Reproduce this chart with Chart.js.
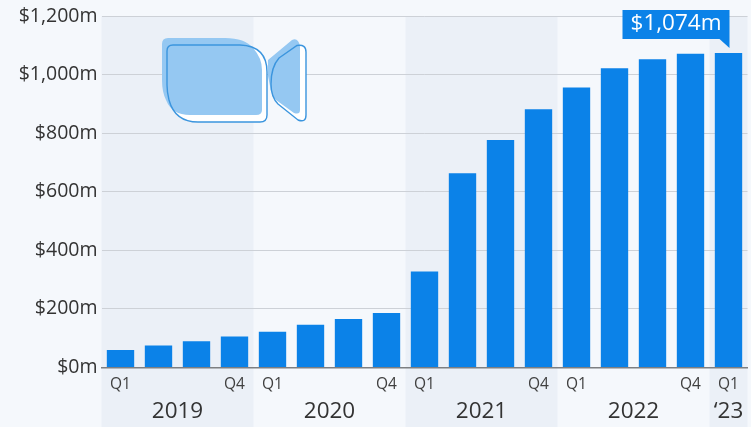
<!DOCTYPE html>
<html>
<head>
<meta charset="utf-8">
<style>
  html, body { margin: 0; padding: 0; background: #f5f8fc; }
  #chart { display: block; }
</style>
</head>
<body>
<canvas id="chart" width="751" height="427"></canvas>
<script src="https://cdn.jsdelivr.net/npm/chart.js@4"></script>
<script>
const quarterLabels = ["Q1", "", "", "Q4", "Q1", "", "", "Q4", "Q1", "", "", "Q4", "Q1", "", "", "Q4", "Q1"];
const revenue = [60, 75, 90, 106, 122, 146, 166, 186, 328, 663, 777, 882, 956, 1022, 1052, 1071, 1074];
const yearLabels = ["2019", "2020", "2021", "2022", "\u201823"];
const yearStarts = [0, 4, 8, 12, 16];
const yearEnds = [3, 7, 11, 15, 16];
const calloutText = "$1,074m";

const FONT = '"Open Sans", "Noto Sans", sans-serif';
const BLUE = "#0b82e8";

// shaded bands behind every other year
const yearBands = {
  id: "yearBands",
  beforeDraw(chart) {
    const { ctx, chartArea, scales } = chart;
    const step = scales.x.getPixelForValue(1) - scales.x.getPixelForValue(0);
    ctx.save();
    ctx.fillStyle = "#ebf0f7";
    yearStarts.forEach((start, i) => {
      if (i % 2) return;
      const x0 = scales.x.getPixelForValue(start) - step / 2;
      const x1 = Math.min(scales.x.getPixelForValue(yearEnds[i]) + step / 2, chart.width);
      ctx.fillRect(x0, chartArea.top, x1 - x0, chart.height - chartArea.top);
    });
    ctx.restore();
  },
};

// video camera icon in the upper left of the plot
function drawCamera(ctx) {
  const body = new Path2D("M173 45 L240 45 Q267 46 267 72 L267 115 Q267 122 260 122 L198 122 Q175 122 169 100 Q167 92 167 85 L167 51 Q167 45 173 45 Z");
  const bodyFill = new Path2D("M168 38 L225 38 Q245 38 253 48 Q262 58 262 70 L262 110 Q262 115 256 115 L190 115 Q172 115 166 100 Q162 92 162 80 L162 44 Q162 38 168 38 Z");
  const lens = new Path2D("M279 58 L297 45.5 Q306 44 306 52 L306 115 Q306 123 298 120 L278 104 Q271 97 271 84 Q271 67 279 58 Z");
  const lensFill = new Path2D("M268 60 L292 40 Q298 37 300 46 L300 110 Q300 115 294 113 L276 100 Q271 95 270 86 L268 76 Z");
  ctx.save();
  ctx.fillStyle = "#ffffff";
  ctx.fill(body);
  ctx.fill(lens);
  ctx.fillStyle = "#95c8f2";
  ctx.fill(bodyFill);
  ctx.fill(lensFill);
  ctx.strokeStyle = "#3b95de";
  ctx.lineWidth = 1.4;
  ctx.stroke(body);
  ctx.stroke(lens);
  ctx.restore();
}

const decorations = {
  id: "decorations",
  beforeDatasetsDraw(chart) {
    drawCamera(chart.ctx);
  },
  afterDraw(chart) {
    const { ctx, scales } = chart;
    const step = scales.x.getPixelForValue(1) - scales.x.getPixelForValue(0);
    ctx.save();

    // year captions under the quarter ticks
    ctx.fillStyle = "#333333";
    ctx.font = "22.5px " + FONT;
    ctx.textAlign = "center";
    ctx.textBaseline = "middle";
    yearLabels.forEach((label, i) => {
      const x0 = scales.x.getPixelForValue(yearStarts[i]) - step / 2;
      const x1 = scales.x.getPixelForValue(yearEnds[i]) + step / 2;
      ctx.fillText(label, (x0 + x1) / 2, 412);
    });

    // callout on the last bar
    const last = chart.getDatasetMeta(0).data[revenue.length - 1];
    const tipX = last.x + 1;
    const tipY = last.y - 5;
    ctx.fillStyle = BLUE;
    ctx.fillRect(tipX - 107, 10, 107, 29);
    ctx.beginPath();
    ctx.moveTo(tipX - 10, 39);
    ctx.lineTo(tipX, tipY);
    ctx.lineTo(tipX, 39);
    ctx.closePath();
    ctx.fill();
    ctx.fillStyle = "#ffffff";
    ctx.font = "500 22.5px " + FONT;
    ctx.fillText(calloutText, tipX - 53.5, 24);
    ctx.restore();
  },
};

new Chart(document.getElementById("chart"), {
  type: "bar",
  data: {
    labels: quarterLabels,
    datasets: [
      {
        data: revenue,
        backgroundColor: BLUE,
        borderWidth: 0,
        categoryPercentage: 1,
        barPercentage: 0.72,
      },
    ],
  },
  options: {
    responsive: false,
    animation: false,
    layout: { padding: { top: 16, right: 3.5, left: 0, bottom: 0 } },
    plugins: { legend: false, tooltip: { enabled: false } },
    scales: {
      x: {
        afterFit(scale) {
          scale.height = 59.5;
        },
        grid: { display: false },
        border: { color: "#7d7f82", width: 1.5 },
        ticks: {
          color: "#404040",
          font: { family: FONT, size: 15.5 },
          autoSkip: false,
          maxRotation: 0,
          padding: 0,
        },
      },
      y: {
        min: 0,
        max: 1200,
        afterFit(scale) {
          scale.width = 101.5;
        },
        grid: { color: "#cdd1d7", lineWidth: 1, drawTicks: false },
        border: { display: false },
        ticks: {
          stepSize: 200,
          padding: 4,
          color: "#333333",
          font: { family: FONT, size: 19.5 },
          callback: (value) => "$" + value.toLocaleString("en-US") + "m",
        },
      },
    },
  },
  plugins: [yearBands, decorations],
});
</script>
</body>
</html>
